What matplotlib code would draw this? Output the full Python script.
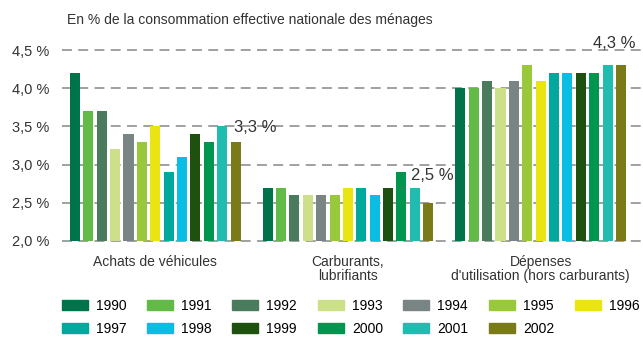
import matplotlib.pyplot as plt
from matplotlib.patches import Patch
import numpy as np

years = [str(y) for y in range(1990, 2003)]
categories = ["Achats de véhicules", "Carburants,\nlubrifiants",
              "Dépenses\nd'utilisation (hors carburants)"]
achats = [4.2, 3.7, 3.7, 3.2, 3.4, 3.3, 3.5, 2.9, 3.1, 3.4, 3.3, 3.5, 3.3]
carburants = [2.7, 2.7, 2.6, 2.6, 2.6, 2.6, 2.7, 2.7, 2.6, 2.7, 2.9, 2.7, 2.5]
depenses = [4.0, 4.0, 4.1, 4.0, 4.1, 4.3, 4.1, 4.2, 4.2, 4.2, 4.2, 4.3, 4.3]
colors = ["#00734A", "#62BB46", "#4A7B5C", "#CCE08A", "#798584", "#99C93B",
          "#EAE512", "#00A89D", "#0ABDE3", "#1E5010", "#009650", "#20BCB0",
          "#7A7B18"]
yticks = [2.0, 2.5, 3.0, 3.5, 4.0, 4.5]

plt.rcParams['font.family'] = ['Liberation Sans', 'DejaVu Sans']

fig = plt.figure(figsize=(6.43, 3.37), dpi=100)
ax = fig.add_axes([62/643, 1-241/337, 1-62/643, 191/337])

gap = 14.4
series = [achats, carburants, depenses]
n = len(years)
for g, vals in enumerate(series):
    x = g*gap + np.arange(n)
    ax.bar(x, np.array(vals) - 2.0, bottom=2.0, width=0.75, color=colors, zorder=3)

# value of the last year written above each group
offsets = [(1.46, 0.18), (0.34, 0.36), (-0.5, 0.28)]
for g, vals in enumerate(series):
    dx, dy = offsets[g]
    ax.text(g*gap + n - 1 + dx, vals[-1] + dy, f"{vals[-1]:.1f} %".replace(".", ","),
            ha='center', va='center', fontsize=12, fontstretch='condensed',
            color='#333333', clip_on=False, zorder=4)

ax.set_xlim(-0.97, 2*gap + n - 1 + 1.65)
ax.set_ylim(2.0, 4.5)
ax.set_yticks(yticks)
ax.set_yticklabels([f"{t:.1f} %".replace(".", ",") for t in yticks],
                   fontsize=10.5, color='#333333')
ax.set_xticks([g*gap + (n-1)/2 for g in range(3)])
ax.set_xticklabels(categories, fontsize=10, color='#333333', linespacing=1.05)
ax.tick_params(length=0, pad=9)
ax.tick_params(axis='x', pad=10)
for s in ax.spines.values():
    s.set_visible(False)
for t in yticks:
    ax.axhline(t, color='#999999', lw=1.3, ls=(0, (5.5, 3.5)), zorder=1, clip_on=False)

fig.text(67/643, 1-20/337, "En % de la consommation effective nationale des ménages",
         fontsize=10, color='#333333', va='center', ha='left')

handles = [Patch(color=c, label=y) for c, y in zip(colors, years)]
order = []
for j in range(7):
    order.append(j)
    if j + 7 < n:
        order.append(j + 7)
fig.legend([handles[i] for i in order], [years[i] for i in order],
           ncol=7, loc='upper left', bbox_to_anchor=(62/643, 1-299/337),
           frameon=False, fontsize=10, handlelength=1.87, handleheight=0.72,
           handletextpad=0.58, columnspacing=1.48, borderpad=0, borderaxespad=0,
           labelspacing=0.62)

fig.savefig('out.png', dpi=100)
